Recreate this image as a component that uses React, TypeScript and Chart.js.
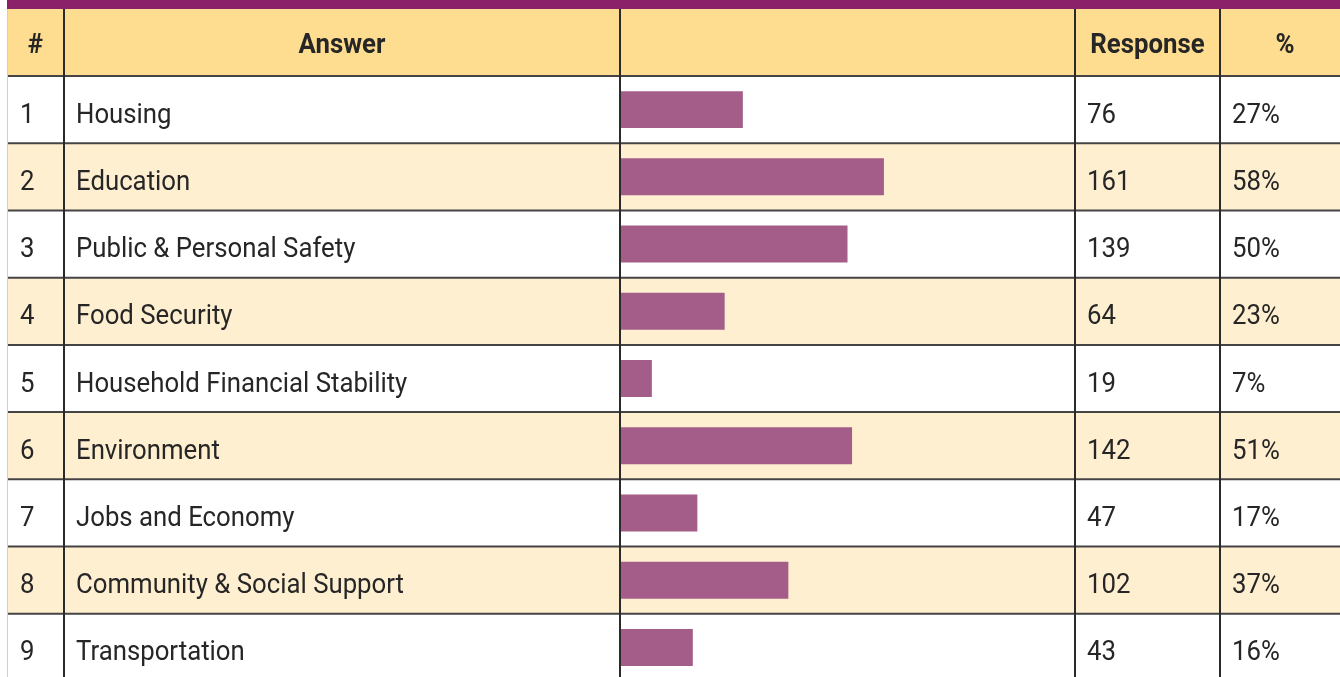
import React, { useEffect, useRef } from "react";
import { Chart, registerables } from "chart.js";

Chart.register(...registerables);

const rowNumbers = ["1", "2", "3", "4", "5", "6", "7", "8", "9"];
const answers = [
  "Housing",
  "Education",
  "Public & Personal Safety",
  "Food Security",
  "Household Financial Stability",
  "Environment",
  "Jobs and Economy",
  "Community & Social Support",
  "Transportation",
];
const responses = [76, 161, 139, 64, 19, 142, 47, 102, 43];
const percents = [27, 58, 50, 23, 7, 51, 17, 37, 16];
const headers = ["#", "Answer", "", "Response", "%"];

const W = 1340;
const H = 681;
const PURPLE = "#8B2169";
const HEADER_BG = "#FEDD90";
const ALT_BG = "#FFEFD1";
const BAR = "#A35D88";
const TEXT = "#262626";

const COL_HASH_L = 7;
const COL_ANSWER_L = 64;
const COL_PCT_L = 1220;

function drawText(ctx: CanvasRenderingContext2D, text: string, x: number, y: number, align: "left" | "center", font: string, sx: number) {
  ctx.save();
  ctx.font = font;
  ctx.fillStyle = TEXT;
  ctx.textBaseline = "alphabetic";
  ctx.textAlign = align;
  ctx.translate(x, y);
  ctx.scale(sx, 1);
  ctx.fillText(text, 0, 0);
  ctx.restore();
}

const tablePlugin = {
  id: "tablePlugin",
  beforeDatasetsDraw(chart: any) {
    const ctx: CanvasRenderingContext2D = chart.ctx;
    const { top, bottom } = chart.chartArea;
    const yScale = chart.scales.y;
    const n = answers.length;
    const h = (bottom - top) / n;
    ctx.save();
    ctx.fillStyle = "#ffffff";
    ctx.fillRect(0, 0, W, H);
    ctx.fillStyle = PURPLE;
    ctx.fillRect(COL_HASH_L, 0, W - COL_HASH_L, 9);
    ctx.fillStyle = HEADER_BG;
    ctx.fillRect(COL_HASH_L, 9, W - COL_HASH_L, top - 9);
    for (let i = 0; i < n; i++) {
      const cy = yScale.getPixelForValue(i);
      ctx.fillStyle = i % 2 === 1 ? ALT_BG : "#ffffff";
      ctx.fillRect(COL_HASH_L, cy - h / 2, W - COL_HASH_L, h);
    }
    ctx.restore();
  },
  afterDatasetsDraw(chart: any) {
    const ctx: CanvasRenderingContext2D = chart.ctx;
    const { left, right, top, bottom } = chart.chartArea;
    const yScale = chart.scales.y;
    const n = answers.length;
    const h = (bottom - top) / n;
    ctx.save();
    // horizontal lines
    ctx.strokeStyle = "#444444";
    ctx.lineWidth = 2;
    for (let i = 0; i <= n; i++) {
      const yy = top + i * h;
      ctx.beginPath();
      ctx.moveTo(COL_HASH_L, yy);
      ctx.lineTo(W, yy);
      ctx.stroke();
    }
    // left light edge
    ctx.strokeStyle = "#cfcfcf";
    ctx.lineWidth = 1;
    ctx.beginPath();
    ctx.moveTo(COL_HASH_L + 0.5, 9);
    ctx.lineTo(COL_HASH_L + 0.5, H);
    ctx.stroke();
    // vertical lines
    ctx.strokeStyle = "#2a2a2a";
    ctx.lineWidth = 2;
    const cols = [COL_ANSWER_L, left, right, COL_PCT_L];
    for (const cx of cols) {
      ctx.beginPath();
      ctx.moveTo(cx, 9);
      ctx.lineTo(cx, H);
      ctx.stroke();
    }
    ctx.restore();

    // header text
    const headerFont = "bold 28px Roboto";
    const hx = [
      (COL_HASH_L + COL_ANSWER_L) / 2,
      (COL_ANSWER_L + left) / 2,
      (left + right) / 2,
      (right + COL_PCT_L) / 2,
      (COL_PCT_L + W + 10) / 2,
    ];
    const hy = (9 + top) / 2 + 10.5;
    headers.forEach((t, i) => {
      if (t) drawText(ctx, t, hx[i], hy, "center", headerFont, 0.92);
    });

    // body text
    const bodyFont = "28px Roboto";
    for (let i = 0; i < n; i++) {
      const cy = yScale.getPixelForValue(i) + 13;
      drawText(ctx, rowNumbers[i], COL_HASH_L + 13, cy, "left", bodyFont, 0.92);
      drawText(ctx, answers[i], COL_ANSWER_L + 12, cy, "left", bodyFont, 0.92);
      drawText(ctx, String(responses[i]), right + 12, cy, "left", bodyFont, 0.92);
      drawText(ctx, percents[i] + "%", COL_PCT_L + 12, cy, "left", bodyFont, 0.92);
    }
  },
};

export default function App() {
  const ref = useRef<HTMLCanvasElement | null>(null);
  useEffect(() => {
    document.body.style.margin = "0";
    document.body.style.overflow = "hidden";
    const canvas = ref.current;
    if (!canvas) return;
    const chart = new Chart(canvas, {
      type: "bar",
      data: {
        labels: answers,
        datasets: [
          {
            data: percents,
            backgroundColor: BAR,
            borderWidth: 0,
            barPercentage: 0.55,
            categoryPercentage: 1,
          },
        ],
      },
      options: {
        indexAxis: "y",
        responsive: false,
        maintainAspectRatio: false,
        devicePixelRatio: 1,
        animation: false,
        layout: { padding: { left: 620, right: W - 1075, top: 76, bottom: 0 } },
        scales: {
          x: { min: 0, max: 100, display: false },
          y: { display: false },
        },
        plugins: { legend: { display: false }, tooltip: { enabled: false } },
      },
      plugins: [tablePlugin],
    });
    return () => chart.destroy();
  }, []);
  return (
    <div style={{ position: "fixed", left: 0, top: 0, width: W, height: H }}>
      <canvas ref={ref} width={W} height={H} style={{ display: "block", width: W, height: H }} />
    </div>
  );
}
